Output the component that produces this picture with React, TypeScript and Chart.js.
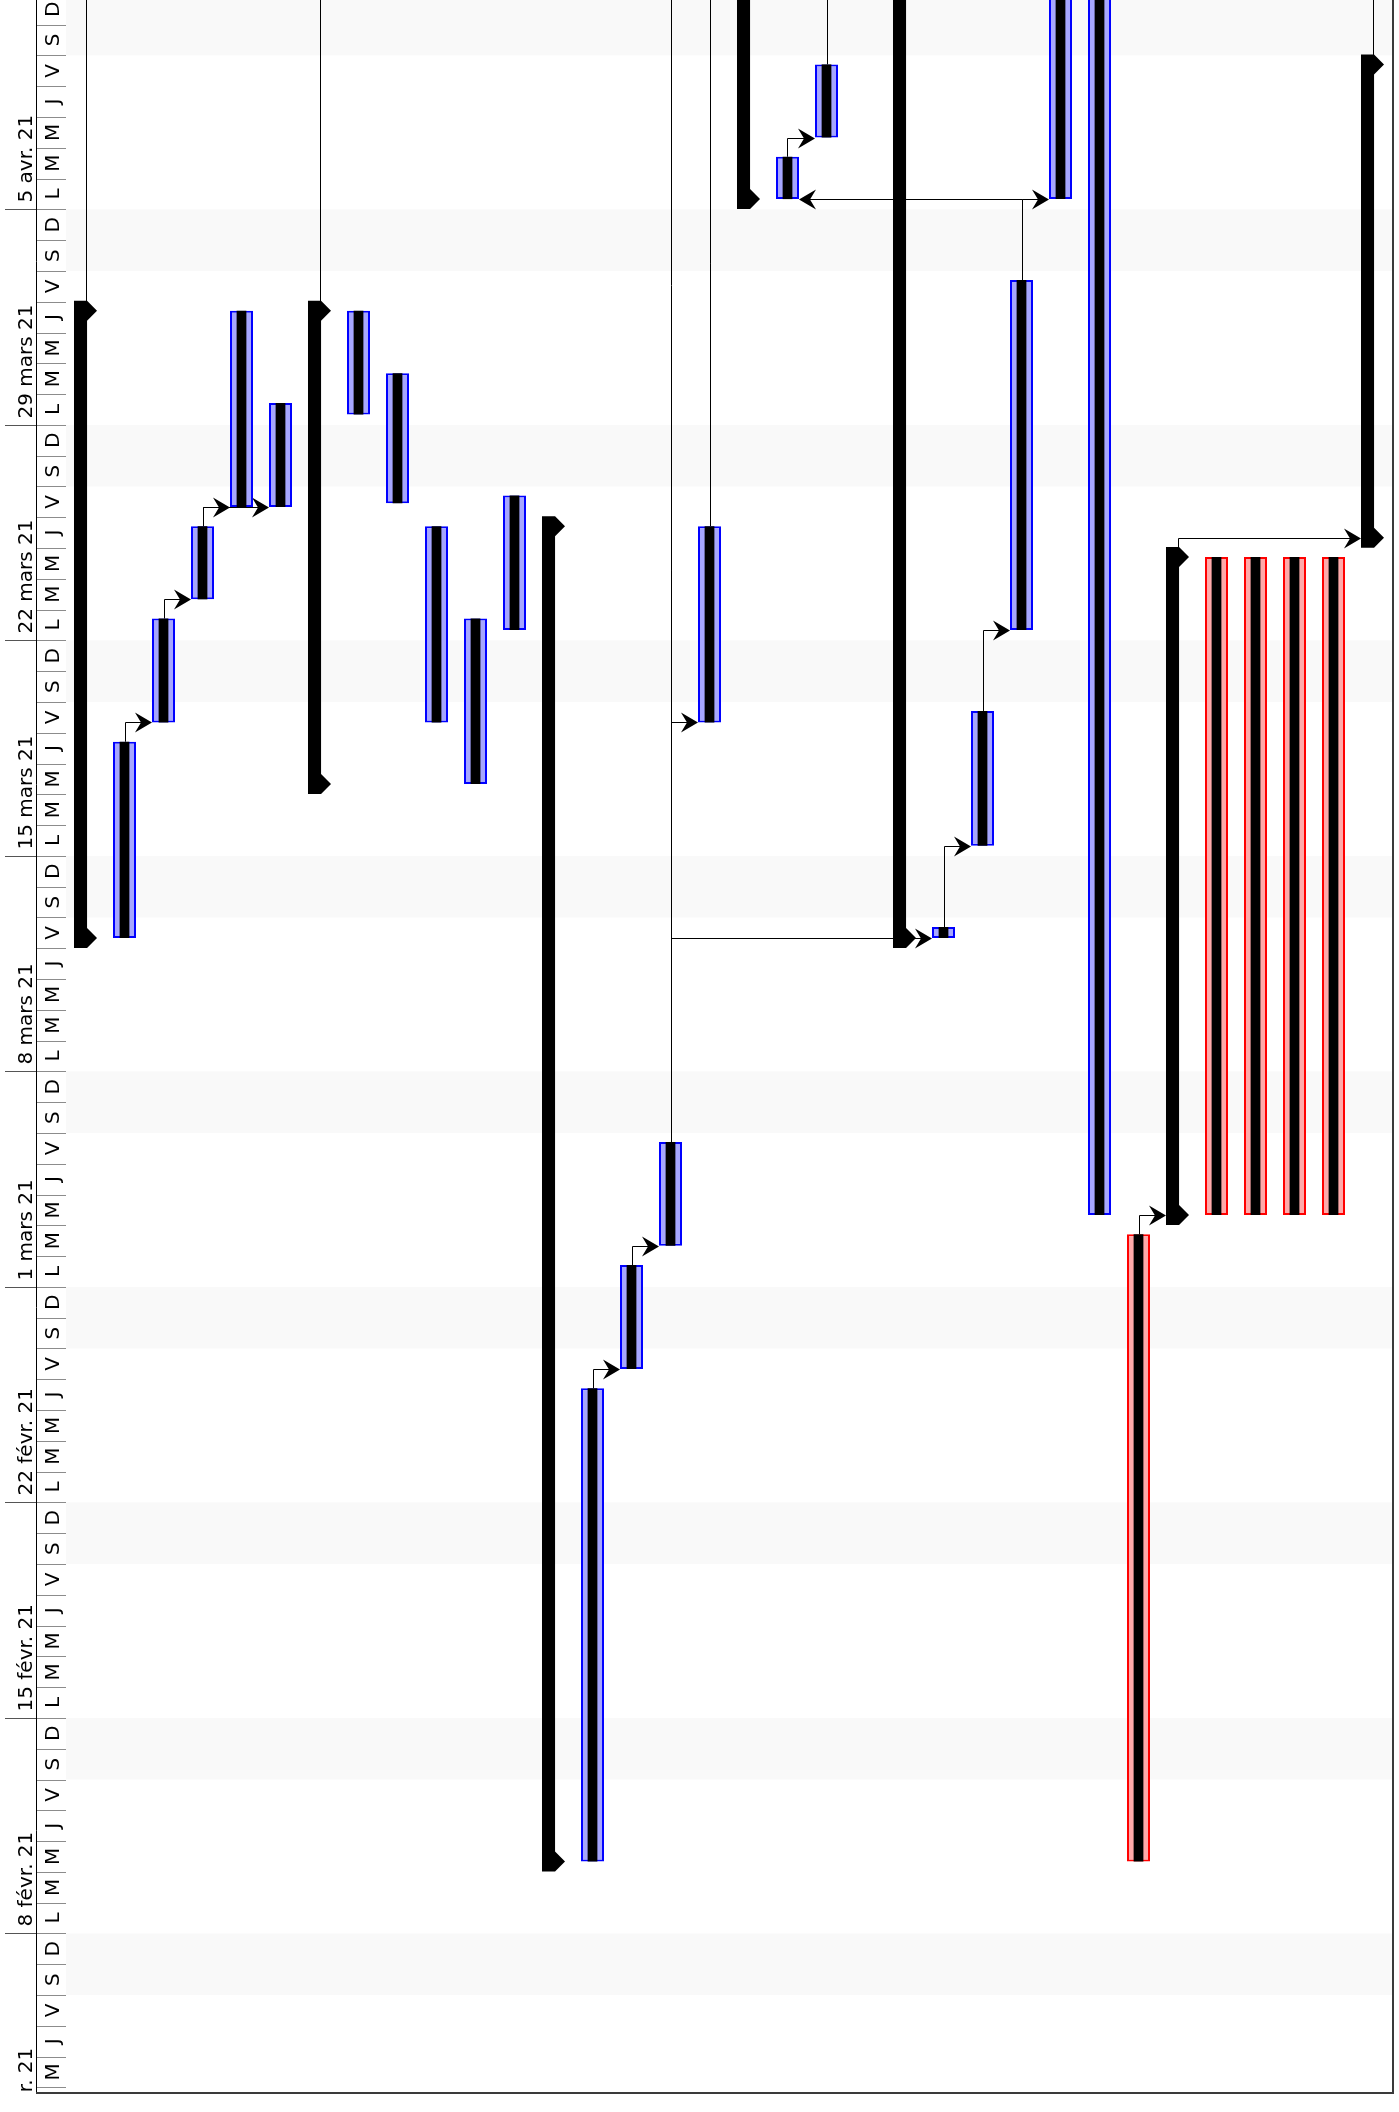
import { useEffect, useRef } from 'react';
import { Chart, registerables } from 'chart.js';

Chart.register(...registerables);

// Time unit: days since Monday 1 Feb 2021 00:00 (8:00 = .333, 17:00 = .708)
const columns = [
  'G1', 'A1', 'A2', 'A3', 'A4', 'A5',
  'G2', 'B1', 'B2', 'B3', 'B4', 'B5',
  'G3', 'C1', 'C2', 'C3', 'C4',
  'G4', 'D1', 'D2', 'D3',
  'G5', 'E1', 'E2', 'E3', 'E4', 'E5',
  'F0', 'G6', 'F1', 'F2', 'F3', 'F4',
  'G7',
];
// S = summary, T = task, C = critical task, N = nothing in view
const kinds = [
  'S', 'T', 'T', 'T', 'T', 'T',
  'S', 'T', 'T', 'T', 'T', 'T',
  'S', 'T', 'T', 'T', 'T',
  'S', 'T', 'T', 'N',
  'S', 'T', 'T', 'T', 'T', 'T',
  'C', 'S', 'C', 'C', 'C', 'C',
  'S',
];
const startDay = [
  39.333, 39.333, 46.333, 50.333, 53.333, 53.333,
  44.333, 56.333, 53.45, 46.333, 44.333, 49.333,
  9.333, 9.333, 25.333, 29.333, 46.333,
  63.333, 63.333, 65.333, 0,
  39.333, 39.333, 42.333, 49.333, 63.333, 30.333,
  9.333, 30.333, 30.333, 30.333, 30.333, 30.333,
  52.333,
];
const endDay = [
  59.708, 45.708, 49.708, 52.708, 59.708, 56.708,
  59.708, 59.708, 57.68, 52.708, 49.708, 53.708,
  52.708, 24.708, 28.708, 32.708, 52.708,
  75, 64.708, 67.708, 0,
  75, 39.69, 46.708, 60.708, 75, 75,
  29.708, 51.708, 51.708, 51.708, 51.708, 51.708,
  67.708,
];
// finish-to-start links [from, to]
const links = [
  [1, 2], [2, 3], [3, 4], [3, 5],
  [13, 14], [14, 15], [15, 22], [15, 16],
  [18, 19], [22, 23], [23, 24], [24, 25], [24, 18],
  [27, 28], [28, 33],
];
// links whose successor lies beyond the top of the view
const openLinks = [0, 6, 15, 16, 19, 33];

const weekLabels = [
  '1 févr. 21', '8 févr. 21', '15 févr. 21', '22 févr. 21', '1 mars 21',
  '8 mars 21', '15 mars 21', '22 mars 21', '29 mars 21', '5 avr. 21',
];
const weekStarts = [0, 7, 14, 21, 28, 35, 42, 49, 56, 63];
const dayLetters = ['L', 'M', 'M', 'J', 'V', 'S', 'D'];

const axisMin = 1.85;
const axisMax = 69.8;

const FONT = '20px "DejaVu Sans"';

const ganttPlugin = {
  id: 'gantt',
  beforeDatasetsDraw(chart: any) {
    const { ctx, chartArea: a, scales } = chart;
    const x = scales.x, y = scales.y;
    ctx.save();
    ctx.beginPath();
    ctx.rect(a.left, a.top, a.right - a.left, a.bottom - a.top);
    ctx.clip();
    // weekends
    ctx.fillStyle = '#f9f9f9';
    for (let d = Math.floor(axisMin) - 2; d < axisMax; d++) {
      const dow = ((d % 7) + 7) % 7;
      if (dow === 5) {
        const y0 = y.getPixelForValue(d + 2);
        const y1 = y.getPixelForValue(d);
        ctx.fillRect(a.left, y0, a.right - a.left, y1 - y0);
      }
    }
    const slot = x.getPixelForValue(1) - x.getPixelForValue(0);
    const half = slot * 0.295;
    const L = 17, W = 10, N = 6;
    ctx.strokeStyle = '#000';
    ctx.fillStyle = '#000';
    ctx.lineWidth = 1;
    for (const [f, t] of links) {
      const xa = Math.round(x.getPixelForValue(f)) + 0.5;
      const ya = y.getPixelForValue(endDay[f]);
      const yb = Math.round(y.getPixelForValue(startDay[t])) + 0.5;
      const dir = t > f ? 1 : -1;
      const tipX = x.getPixelForValue(t) - dir * half;
      ctx.beginPath();
      ctx.moveTo(xa, ya);
      ctx.lineTo(xa, yb);
      ctx.lineTo(tipX - dir * (L - N), yb);
      ctx.stroke();
      ctx.beginPath();
      ctx.moveTo(tipX, yb);
      ctx.lineTo(tipX - dir * L, yb - W);
      ctx.lineTo(tipX - dir * (L - N), yb);
      ctx.lineTo(tipX - dir * L, yb + W);
      ctx.closePath();
      ctx.fill();
    }
    for (const f of openLinks) {
      const xa = Math.round(x.getPixelForValue(f)) + 0.5;
      const ya = y.getPixelForValue(endDay[f]);
      ctx.beginPath();
      ctx.moveTo(xa, ya);
      ctx.lineTo(xa, a.top);
      ctx.stroke();
    }
    ctx.restore();
  },
  afterDatasetsDraw(chart: any) {
    const { ctx, chartArea: a, scales } = chart;
    const x = scales.x, y = scales.y;
    const slot = x.getPixelForValue(1) - x.getPixelForValue(0);
    const half = slot * 0.295;
    const barW = slot * 0.335;
    const cap = 10;
    ctx.save();
    ctx.beginPath();
    ctx.rect(a.left, a.top, a.right - a.left, a.bottom - a.top);
    ctx.clip();
    ctx.fillStyle = '#000';
    kinds.forEach((k, i) => {
      if (k !== 'S') return;
      const cx = x.getPixelForValue(i);
      const x0 = cx - half;
      const x1 = x0 + barW;
      const tip = cx + half;
      const yS = y.getPixelForValue(startDay[i]);
      const yE = y.getPixelForValue(endDay[i]);
      ctx.beginPath();
      ctx.moveTo(x0, yE - cap);
      ctx.lineTo(x1, yE - cap);
      ctx.lineTo(tip, yE);
      ctx.lineTo(x1, yE + cap);
      ctx.lineTo(x1, yS - cap);
      ctx.lineTo(tip, yS);
      ctx.lineTo(x1, yS + cap);
      ctx.lineTo(x0, yS + cap);
      ctx.closePath();
      ctx.fill();
    });
    ctx.restore();
  },
  afterDraw(chart: any) {
    const { ctx, chartArea: a, scales } = chart;
    const y = scales.y;
    const sepX = 36;
    ctx.save();
    ctx.beginPath();
    ctx.rect(0, a.top, a.left, a.bottom - a.top);
    ctx.clip();
    ctx.font = FONT;
    for (let d = Math.floor(axisMin); d <= Math.ceil(axisMax); d++) {
      const dow = ((d % 7) + 7) % 7;
      const yy = Math.round(y.getPixelForValue(d)) + 0.5;
      ctx.strokeStyle = '#8c8c8c';
      ctx.lineWidth = 1;
      ctx.beginPath();
      ctx.moveTo(sepX, yy);
      ctx.lineTo(a.left, yy);
      ctx.stroke();
      const yc = y.getPixelForValue(d + 0.5);
      ctx.save();
      ctx.translate((sepX + a.left) / 2 + 3, yc);
      ctx.rotate(-Math.PI / 2);
      ctx.fillStyle = '#000';
      ctx.textAlign = 'center';
      ctx.textBaseline = 'middle';
      ctx.fillText(dayLetters[dow], 0, 0);
      ctx.restore();
    }
    weekStarts.forEach((w, i) => {
      const yy = Math.round(y.getPixelForValue(w)) + 0.5;
      ctx.strokeStyle = '#555';
      ctx.lineWidth = 1;
      ctx.beginPath();
      ctx.moveTo(5, yy);
      ctx.lineTo(sepX, yy);
      ctx.stroke();
      ctx.save();
      ctx.translate(32, yy - 7);
      ctx.rotate(-Math.PI / 2);
      ctx.fillStyle = '#000';
      ctx.textAlign = 'left';
      ctx.textBaseline = 'alphabetic';
      ctx.fillText(weekLabels[i], 0, 0);
      ctx.restore();
    });
    ctx.strokeStyle = '#000';
    ctx.beginPath();
    ctx.moveTo(sepX + 0.5, a.top);
    ctx.lineTo(sepX + 0.5, a.bottom);
    ctx.stroke();
    ctx.restore();
    // frame
    ctx.save();
    ctx.strokeStyle = '#3a3a3a';
    ctx.lineWidth = 2;
    ctx.beginPath();
    ctx.moveTo(sepX, a.bottom + 1);
    ctx.lineTo(a.right + 1, a.bottom + 1);
    ctx.lineTo(a.right + 1, a.top);
    ctx.stroke();
    ctx.restore();
  },
};

export default function App() {
  const ref = useRef<HTMLCanvasElement>(null);
  useEffect(() => {
    const taskData = columns.map((_, i) =>
      kinds[i] === 'T' || kinds[i] === 'C' ? [startDay[i], endDay[i]] : null
    );
    const fills = kinds.map((k) => (k === 'C' ? '#ffaaaa' : '#a6a6ff'));
    const borders = kinds.map((k) => (k === 'C' ? '#ff0000' : '#0000ff'));
    const chart = new Chart(ref.current as HTMLCanvasElement, {
      type: 'bar',
      data: {
        labels: columns,
        datasets: [
          {
            label: 'avancement',
            data: taskData as any,
            backgroundColor: '#000000',
            borderWidth: 0,
            barPercentage: 0.25,
            categoryPercentage: 1,
            grouped: false,
            order: 0,
          },
          {
            label: 'tâches',
            data: taskData as any,
            backgroundColor: fills,
            borderColor: borders,
            borderWidth: 2,
            borderSkipped: false,
            barPercentage: 0.59,
            categoryPercentage: 1,
            grouped: false,
            order: 1,
          },
        ],
      },
      options: {
        animation: false,
        responsive: true,
        maintainAspectRatio: false,
        layout: { padding: { left: 66, right: 7, top: 0, bottom: 20 } },
        scales: {
          x: { display: false, grid: { display: false } },
          y: { display: false, min: axisMin, max: axisMax },
        },
        plugins: { legend: { display: false }, tooltip: { enabled: false } },
      },
      plugins: [ganttPlugin],
    });
    return () => chart.destroy();
  }, []);
  return (
    <div style={{ position: 'absolute', left: 0, top: 0, width: 1399, height: 2112, background: '#fff' }}>
      <canvas ref={ref} />
    </div>
  );
}
